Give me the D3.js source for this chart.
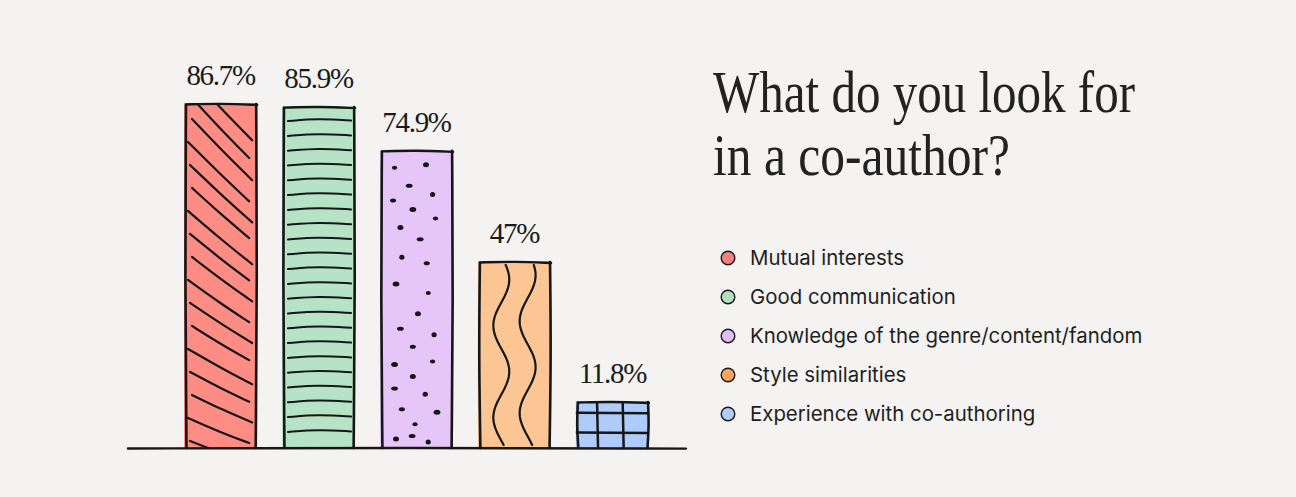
<!DOCTYPE html>
<html>
<head>
<meta charset="utf-8">
<script src="https://cdn.jsdelivr.net/npm/d3@7"></script>
<style>
  html, body { margin: 0; padding: 0; background: #f4f3f1; }
  svg { display: block; }
</style>
</head>
<body>
<svg id="chart" width="1296" height="497"></svg>
<script>
// ---- data ----
const categories = ["Mutual interests", "Good communication", "Knowledge of the genre/content/fandom", "Style similarities", "Experience with co-authoring"];
const values = [86.7, 85.9, 74.9, 47, 11.8];
const valueLabels = ["86.7%", "85.9%", "74.9%", "47%", "11.8%"];
const titleLines = ["What do you look for", "in a co-author?"];
const barColors = ["#fd8c84", "#b6e3c5", "#e6c6f8", "#fbc594", "#aecbfa"];
const legendColors = ["#f2817f", "#b3dfbf", "#e2bdf5", "#f7a660", "#b0cdf6"];
const patterns = ["diagonal", "horizontal", "dots", "waves", "grid"];

const svg = d3.select("#chart");
svg.append("rect").attr("width", 1296).attr("height", 497).attr("fill", "#f4f3f1");

const x = d3.scaleBand().domain(categories).range([184, 649]).paddingInner(0.253).paddingOuter(0);
const y = d3.scaleLinear().domain([0, 100]).range([448, 50]);

const ink = "#161616";
const defs = svg.append("defs");
const line = d3.line().curve(d3.curveBasis);

// decorative dot positions for the dotted pattern (relative fractions)
const dotSpots = [[0.2,0.06],[0.63,0.05],[0.4,0.12],[0.72,0.15],[0.18,0.17],[0.45,0.2],[0.76,0.23],[0.28,0.26],[0.55,0.3],
  [0.3,0.36],[0.64,0.38],[0.22,0.45],[0.66,0.48],[0.52,0.55],[0.28,0.6],[0.74,0.62],[0.45,0.66],[0.2,0.72],[0.72,0.71],
  [0.45,0.76],[0.2,0.8],[0.62,0.82],[0.3,0.87],[0.78,0.88],[0.48,0.92],[0.22,0.97],[0.44,0.96],[0.66,0.98]];

categories.forEach((c, i) => {
  const x0 = x(c), w = x.bandwidth(), top = y(values[i]), bot = y(0), h = bot - top;
  const g = svg.append("g");
  defs.append("clipPath").attr("id", "clip" + i).append("rect")
    .attr("x", x0).attr("y", top).attr("width", w).attr("height", h);
  g.append("rect").attr("x", x0).attr("y", top).attr("width", w).attr("height", h).attr("fill", barColors[i]);
  const p = g.append("g").attr("clip-path", `url(#clip${i})`)
    .attr("fill", "none").attr("stroke", ink).attr("stroke-linecap", "round");

  if (patterns[i] === "diagonal") {
    for (let k = 0; ; k++) {
      const ys = top - 30 + k * 23;
      if (ys > bot) break;
      const t = Math.max(0, Math.min(1, (ys - top) / h));
      const slope = 1.05 - 0.7 * t;
      const xa = x0 + 4 + (k % 3) * 2, xb = x0 + w - 5 - (k % 2) * 3;
      p.append("path").attr("stroke-width", 2.2)
        .attr("d", line([[xa, ys], [(xa + xb) / 2, ys + slope * (xb - xa) / 2 + 1], [xb, ys + slope * (xb - xa)]]));
    }
  } else if (patterns[i] === "horizontal") {
    for (let yy = top + 14; yy < bot - 4; yy += 14.8) {
      p.append("path").attr("stroke-width", 2)
        .attr("d", line([[x0 + 6, yy + 1], [x0 + w / 2, yy - 1.5], [x0 + w - 4, yy + 0.5]]));
    }
  } else if (patterns[i] === "dots") {
    dotSpots.forEach(([fx, fy], k) => {
      p.append("ellipse").attr("cx", x0 + fx * w).attr("cy", top + fy * h)
        .attr("rx", 2.6 + (k % 3) * 0.4).attr("ry", 2 + (k % 2) * 0.5)
        .attr("fill", ink).attr("stroke", "none");
    });
  } else if (patterns[i] === "waves") {
    [0.32, 0.68].forEach((fx, k) => {
      const pts = [];
      for (let yy = top + 4; yy <= bot; yy += 4) {
        pts.push([x0 + fx * w + 8 * Math.sin((yy - top) / 92 * 2 * Math.PI + (k ? 0.6 : 0.3)), yy]);
      }
      p.append("path").attr("stroke-width", 2.2).attr("d", d3.line()(pts));
    });
  } else if (patterns[i] === "grid") {
    [0.29, 0.64].forEach(fx => {
      p.append("line").attr("x1", x0 + fx * w).attr("x2", x0 + fx * w + 1).attr("y1", top).attr("y2", bot).attr("stroke-width", 2.5);
    });
    [0.25, 0.67].forEach(fy => {
      p.append("line").attr("x1", x0).attr("x2", x0 + w).attr("y1", top + fy * h).attr("y2", top + fy * h + 0.5).attr("stroke-width", 2.5);
    });
  }

  // sketchy outline
  const o = g.append("g").attr("fill", "none").attr("stroke", ink).attr("stroke-linecap", "round");
  o.append("path").attr("stroke-width", 2.6)
    .attr("d", line([[x0 + 2, top + 2], [x0 + 1, top + h * 0.5], [x0 + 2.5, bot]]));
  o.append("path").attr("stroke-width", 2.6)
    .attr("d", line([[x0 + w - 1, top + 1], [x0 + w, top + h * 0.5], [x0 + w - 1.5, bot]]));
  o.append("path").attr("stroke-width", 2.4)
    .attr("d", line([[x0 + 2, top + 1.5], [x0 + w / 2, top + 0.5], [x0 + w, top + 2]]));

  // value label
  svg.append("text").attr("x", x0 + w / 2).attr("y", top - 18)
    .attr("text-anchor", "middle")
    .attr("font-family", "'Liberation Serif', 'DejaVu Serif', serif")
    .attr("font-size", 29).attr("letter-spacing", -1.3)
    .attr("fill", "#1a1a1a").text(valueLabels[i]);
});

// baseline
svg.append("path").attr("fill", "none").attr("stroke", ink).attr("stroke-width", 2.4).attr("stroke-linecap", "round")
  .attr("d", line([[128, y(0) + 0.5], [400, y(0) - 0.3], [686, y(0) + 0.6]]));

// title
const titleWidths = [422, 297];
titleLines.forEach((t, i) => {
  svg.append("text").attr("x", 713).attr("y", 112 + i * 63)
    .attr("font-family", "'Liberation Serif', 'DejaVu Serif', serif")
    .attr("font-size", 60).attr("fill", "#222")
    .attr("textLength", titleWidths[i]).attr("lengthAdjust", "spacingAndGlyphs")
    .text(t);
});

// legend
const legend = svg.append("g");
categories.forEach((c, i) => {
  const cy = 258 + i * 39;
  legend.append("circle").attr("cx", 728).attr("cy", cy).attr("r", 6.8)
    .attr("fill", legendColors[i]).attr("stroke", "#1a1a1a").attr("stroke-width", 1.4);
  legend.append("text").attr("x", 750).attr("y", cy).attr("dy", "0.35em")
    .attr("font-family", "Inter, 'Noto Sans', sans-serif").attr("font-size", 20.4)
    .attr("fill", "#1e1e1e").text(c);
});
</script>
</body>
</html>
